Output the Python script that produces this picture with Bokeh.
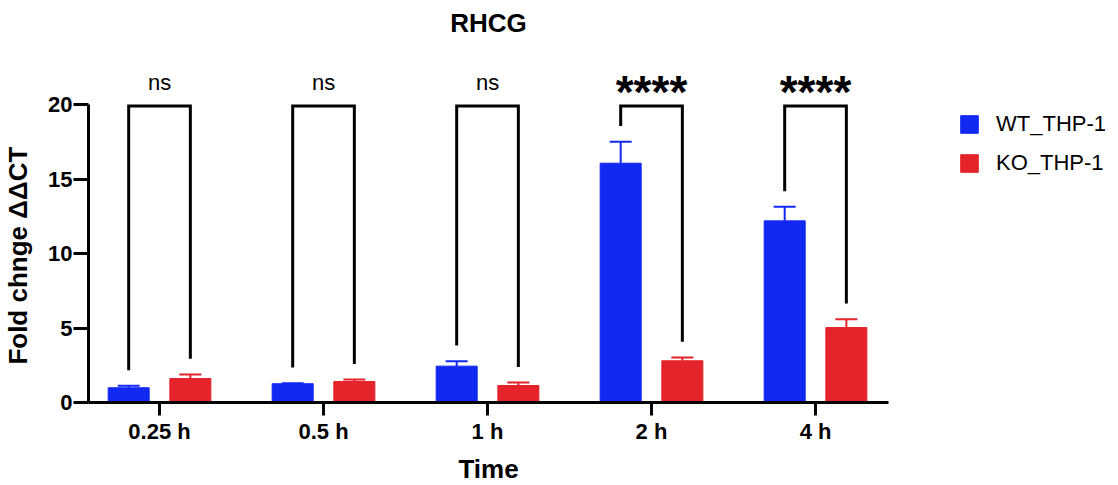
from bokeh.plotting import figure
from bokeh.models import Range1d, FixedTicker, Legend, LegendItem, ColumnDataSource, Label
from bokeh.core.properties import value
from bokeh.embed import file_html
from bokeh.resources import INLINE

# Fold change (ΔΔCT) of RHCG over time, mean and SEM per group
times = ["0.25 h", "0.5 h", "1 h", "2 h", "4 h"]
wt_mean = [0.99, 1.26, 2.44, 16.06, 12.19]
wt_sem = [0.13, 0.04, 0.33, 1.44, 0.94]
ko_mean = [1.61, 1.41, 1.14, 2.80, 5.03]
ko_sem = [0.27, 0.13, 0.20, 0.22, 0.56]
significance = ["ns", "ns", "ns", "****", "****"]
y_ticks = [0, 5, 10, 15, 20]

BLUE = "#1229F3"
RED = "#E4232A"
FONT = "Liberation Sans"
offset = 0.188
bar_w = 0.25
cap_half = 0.067
bracket_top = 19.9
leg_gap = 1.05

idx = list(range(len(times)))
wt_x = [i - offset for i in idx]
ko_x = [i + offset for i in idx]

x_lo, x_hi = -0.433, 4.445
y_top = 26.98  # headroom above the axis for brackets and the title

p = figure(width=1118, height=485, output_backend="svg", toolbar_location=None,
           x_range=Range1d(x_lo, x_hi), y_range=Range1d(0, y_top),
           min_border_left=88, min_border_right=230, min_border_top=0,
           min_border_bottom=83, frame_width=800, frame_height=402)
p.outline_line_color = None
p.grid.visible = False
p.background_fill_color = "white"
p.border_fill_color = "white"

p.add_layout(Label(x=(x_lo + x_hi) / 2, y=y_top, y_offset=-22, text="RHCG",
                   text_align="center", text_baseline="middle", text_font=FONT,
                   text_font_size="26px", text_font_style="bold", text_color="black"))

wt_src = ColumnDataSource(dict(x=wt_x, top=wt_mean, err=[m + s for m, s in zip(wt_mean, wt_sem)]))
ko_src = ColumnDataSource(dict(x=ko_x, top=ko_mean, err=[m + s for m, s in zip(ko_mean, ko_sem)]))

# error bars (upper only)
for src, col in ((wt_src, BLUE), (ko_src, RED)):
    d = src.data
    p.segment(x0=d["x"], y0=d["top"], x1=d["x"], y1=d["err"], line_color=col, line_width=2)
    p.segment(x0=[x - cap_half for x in d["x"]], y0=d["err"],
              x1=[x + cap_half for x in d["x"]], y1=d["err"], line_color=col, line_width=2)

wt_r = p.vbar(x="x", top="top", width=bar_w, source=wt_src, fill_color=BLUE, line_color=BLUE, line_width=1)
ko_r = p.vbar(x="x", top="top", width=bar_w, source=ko_src, fill_color=RED, line_color=RED, line_width=1)

# significance brackets
xs, ys = [], []
for i in idx:
    wt_top = wt_mean[i] + wt_sem[i] + leg_gap
    ko_top = ko_mean[i] + ko_sem[i] + leg_gap
    xs.append([wt_x[i], wt_x[i], ko_x[i], ko_x[i]])
    ys.append([wt_top, bracket_top, bracket_top, ko_top])
p.multi_line(xs=xs, ys=ys, line_color="black", line_width=3, line_join="miter")

ns_i = [i for i in idx if significance[i] == "ns"]
st_i = [i for i in idx if significance[i] != "ns"]
p.text(x=[(wt_x[i] + ko_x[i]) / 2 for i in ns_i], y=[21.5] * len(ns_i),
       text=[significance[i] for i in ns_i], text_align="center", text_baseline="alphabetic",
       text_font=value(FONT), text_font_size="22px", text_color="black")
p.text(x=[(wt_x[i] + ko_x[i]) / 2 for i in st_i], y=[20.85] * len(st_i),
       text=[significance[i] for i in st_i], text_align="center", text_baseline="alphabetic",
       text_font=value(FONT), text_font_size="46px", text_font_style="bold", text_color="black")

# axes
xa = p.xaxis[0]
xa.ticker = FixedTicker(ticks=idx)
xa.major_label_overrides = {i: t for i, t in enumerate(times)}
xa.axis_label = "Time"
ya = p.yaxis[0]
ya.ticker = FixedTicker(ticks=y_ticks)
ya.bounds = (0, 20)
# trailing no-break spaces centre the label on the 0-20 span of the axis
ya.axis_label = "Fold chnge ΔΔCT" + "\u00a0" * 15
for ax in (xa, ya):
    ax.axis_line_width = 3
    ax.axis_line_color = "black"
    ax.major_tick_line_width = 3
    ax.major_tick_line_color = "black"
    ax.major_tick_in = 0
    ax.minor_tick_line_color = None
    ax.major_label_text_font = FONT
    ax.major_label_text_font_size = "22px"
    ax.major_label_text_font_style = "bold"
    ax.major_label_text_color = "black"
    ax.axis_label_text_font = FONT
    ax.axis_label_text_font_size = "26px"
    ax.axis_label_text_font_style = "bold"
    ax.axis_label_text_color = "black"
xa.major_tick_out = 13
ya.major_tick_out = 15
xa.major_label_standoff = 3
ya.major_label_standoff = 1
xa.axis_label_standoff = 7
ya.axis_label_standoff = 12

legend = Legend(items=[LegendItem(label="WT_THP-1", renderers=[wt_r]),
                       LegendItem(label="KO_THP-1", renderers=[ko_r])],
                location=(70, 226), orientation="vertical")
legend.border_line_color = None
legend.background_fill_alpha = 0
legend.padding = 0
legend.margin = 0
legend.spacing = 13
legend.glyph_width = 22
legend.glyph_height = 22
legend.label_height = 22
legend.label_standoff = 16
legend.label_text_font = FONT
legend.label_text_font_size = "22px"
legend.label_text_color = "black"
p.add_layout(legend, "right")

open("out.html", "w").write(file_html(p, INLINE))
